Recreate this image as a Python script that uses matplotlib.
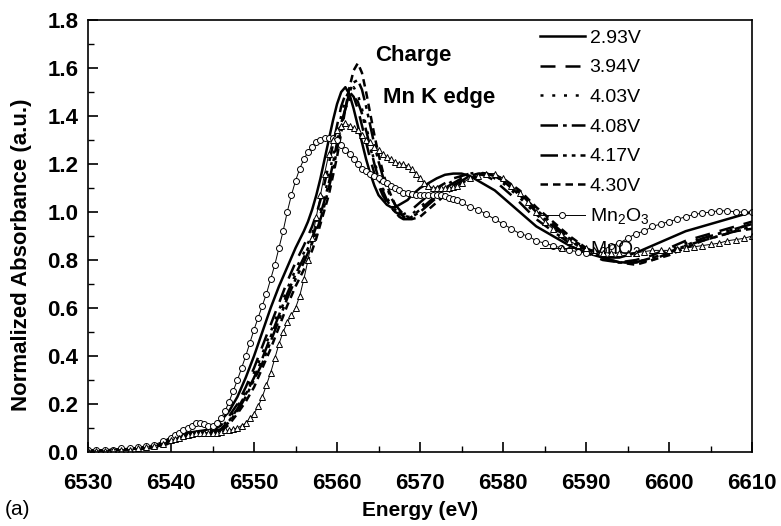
import matplotlib
matplotlib.use("Agg")
import matplotlib.pyplot as plt

plt.rcParams['font.family'] = ['Liberation Sans', 'DejaVu Sans']
plt.rcParams['mathtext.fontset'] = 'custom'
plt.rcParams['mathtext.rm'] = 'Liberation Sans'

# energy grid of the charge curves
e_v = [6530, 6534, 6538, 6539, 6540, 6541, 6542, 6543, 6544, 6545, 6546, 6547,
       6548, 6549, 6550, 6551, 6552, 6553, 6554, 6555, 6556, 6556.5, 6557, 6557.5,
       6558, 6558.5, 6559, 6559.5, 6560, 6560.5, 6561, 6561.5, 6562, 6562.5, 6563,
       6563.5, 6564, 6564.5, 6565, 6565.5, 6566, 6566.5, 6567, 6567.5, 6568, 6568.5,
       6569, 6570, 6571, 6572, 6573, 6574, 6575, 6576, 6577, 6578, 6579, 6580,
       6582, 6584, 6586, 6588, 6590, 6592, 6594, 6596, 6598, 6600, 6602, 6604,
       6606, 6608, 6610]

v293 = [0.005, 0.01, 0.02, 0.04, 0.06, 0.07, 0.08, 0.085, 0.09, 0.10, 0.13, 0.17,
        0.23, 0.31, 0.40, 0.50, 0.60, 0.69, 0.77, 0.85, 0.92, 0.96, 1.01, 1.07,
        1.14, 1.22, 1.30, 1.38, 1.45, 1.50, 1.52, 1.49, 1.43, 1.36, 1.29,
        1.22, 1.16, 1.11, 1.07, 1.05, 1.03, 1.02, 1.02, 1.03, 1.04, 1.05,
        1.07, 1.10, 1.12, 1.14, 1.155, 1.16, 1.16, 1.15, 1.13, 1.11, 1.09, 1.06,
        1.00, 0.94, 0.90, 0.86, 0.83, 0.81, 0.81, 0.83, 0.86, 0.89, 0.92, 0.94,
        0.96, 0.98, 1.00]

v394 = [0.005, 0.01, 0.02, 0.035, 0.055, 0.065, 0.075, 0.08, 0.085, 0.09, 0.11, 0.15,
        0.20, 0.27, 0.35, 0.44, 0.53, 0.62, 0.71, 0.79, 0.86, 0.90, 0.94, 0.99,
        1.05, 1.12, 1.20, 1.28, 1.36, 1.44, 1.49, 1.50, 1.48, 1.43, 1.36,
        1.29, 1.22, 1.16, 1.11, 1.07, 1.04, 1.02, 1.00, 0.99, 0.99, 1.00,
        1.01, 1.04, 1.07, 1.10, 1.12, 1.14, 1.15, 1.16, 1.16, 1.15, 1.13, 1.10,
        1.04, 0.97, 0.92, 0.87, 0.83, 0.80, 0.79, 0.80, 0.82, 0.85, 0.88, 0.90,
        0.92, 0.94, 0.96]

v403 = [0.005, 0.01, 0.02, 0.035, 0.05, 0.06, 0.07, 0.075, 0.08, 0.085, 0.10, 0.14,
        0.19, 0.25, 0.33, 0.41, 0.50, 0.59, 0.68, 0.76, 0.83, 0.87, 0.91, 0.96,
        1.01, 1.07, 1.15, 1.23, 1.32, 1.40, 1.47, 1.51, 1.52, 1.49, 1.43,
        1.36, 1.28, 1.21, 1.15, 1.10, 1.06, 1.03, 1.01, 0.99, 0.98, 0.98,
        0.99, 1.02, 1.05, 1.08, 1.11, 1.13, 1.15, 1.16, 1.165, 1.16, 1.14, 1.12,
        1.06, 0.99, 0.93, 0.88, 0.84, 0.81, 0.79, 0.79, 0.81, 0.84, 0.87, 0.89,
        0.91, 0.93, 0.95]

v408 = [0.005, 0.01, 0.02, 0.03, 0.05, 0.06, 0.07, 0.075, 0.08, 0.085, 0.095, 0.13,
        0.18, 0.24, 0.31, 0.39, 0.48, 0.57, 0.66, 0.74, 0.81, 0.85, 0.89, 0.94,
        0.99, 1.05, 1.12, 1.20, 1.29, 1.37, 1.43, 1.47, 1.48, 1.46, 1.41,
        1.34, 1.27, 1.20, 1.14, 1.09, 1.05, 1.02, 1.00, 0.98, 0.97, 0.97,
        0.98, 1.01, 1.04, 1.07, 1.10, 1.12, 1.14, 1.15, 1.16, 1.16, 1.15, 1.13,
        1.07, 1.00, 0.94, 0.89, 0.84, 0.81, 0.79, 0.79, 0.81, 0.83, 0.86, 0.88,
        0.90, 0.92, 0.94]

v417 = [0.005, 0.01, 0.02, 0.03, 0.045, 0.055, 0.065, 0.07, 0.075, 0.08, 0.09, 0.125,
        0.17, 0.23, 0.30, 0.37, 0.46, 0.55, 0.64, 0.72, 0.79, 0.83, 0.87, 0.92,
        0.97, 1.03, 1.10, 1.17, 1.26, 1.35, 1.43, 1.50, 1.54, 1.55, 1.51,
        1.44, 1.36, 1.28, 1.21, 1.15, 1.10, 1.06, 1.03, 1.01, 0.99, 0.98,
        0.98, 1.00, 1.03, 1.06, 1.09, 1.11, 1.13, 1.15, 1.16, 1.16, 1.15, 1.13,
        1.08, 1.01, 0.95, 0.89, 0.85, 0.81, 0.79, 0.79, 0.80, 0.83, 0.86, 0.89,
        0.91, 0.93, 0.95]

v430 = [0.005, 0.01, 0.015, 0.025, 0.04, 0.05, 0.06, 0.065, 0.07, 0.075, 0.085, 0.115,
        0.16, 0.21, 0.27, 0.35, 0.43, 0.52, 0.61, 0.69, 0.76, 0.80, 0.84, 0.89,
        0.95, 1.01, 1.07, 1.15, 1.23, 1.33, 1.43, 1.52, 1.59, 1.62, 1.58,
        1.50, 1.41, 1.32, 1.24, 1.17, 1.11, 1.07, 1.03, 1.00, 0.98, 0.97,
        0.97, 0.98, 1.01, 1.04, 1.07, 1.10, 1.12, 1.14, 1.15, 1.16, 1.15, 1.14,
        1.09, 1.02, 0.96, 0.90, 0.85, 0.81, 0.79, 0.78, 0.80, 0.82, 0.85, 0.88,
        0.90, 0.92, 0.93]

# energy grid of the reference oxides
e_ref = [6530, 6531, 6532, 6533, 6534, 6535, 6536, 6537, 6538, 6539, 6540,
         6540.5, 6541, 6541.5, 6542, 6542.5, 6543, 6543.5, 6544, 6544.5, 6545,
         6545.5, 6546, 6546.5, 6547, 6547.5, 6548, 6548.5, 6549, 6549.5, 6550,
         6550.5, 6551, 6551.5, 6552, 6552.5, 6553, 6553.5, 6554, 6554.5, 6555,
         6555.5, 6556, 6556.5, 6557, 6557.5, 6558, 6558.5, 6559, 6559.5, 6560,
         6560.5, 6561, 6561.5, 6562, 6562.5, 6563, 6563.5, 6564, 6564.5, 6565,
         6565.5, 6566, 6566.5, 6567, 6567.5, 6568, 6568.5, 6569, 6569.5, 6570,
         6570.5, 6571, 6571.5, 6572, 6572.5, 6573, 6573.5, 6574, 6574.5, 6575,
         6576, 6577, 6578, 6579, 6580, 6581, 6582, 6583, 6584, 6585, 6586, 6587,
         6588, 6589, 6590, 6591, 6592, 6593, 6594, 6595, 6596, 6597, 6598, 6599,
         6600, 6601, 6602, 6603, 6604, 6605, 6606, 6607, 6608, 6609, 6610]

mn2o3 = [0.01, 0.01, 0.01, 0.01, 0.015, 0.015, 0.02, 0.025, 0.03, 0.045, 0.06,
         0.07, 0.08, 0.09, 0.10, 0.11, 0.12, 0.12, 0.115, 0.11, 0.11,
         0.12, 0.14, 0.17, 0.21, 0.255, 0.30, 0.35, 0.40, 0.455, 0.51,
         0.56, 0.61, 0.66, 0.72, 0.78, 0.85, 0.92, 1.00, 1.07, 1.13,
         1.18, 1.22, 1.25, 1.27, 1.29, 1.30, 1.31, 1.31, 1.31, 1.30,
         1.28, 1.26, 1.24, 1.22, 1.20, 1.18, 1.17, 1.16, 1.15, 1.14,
         1.13, 1.12, 1.11, 1.10, 1.09, 1.08, 1.08, 1.075, 1.07, 1.07,
         1.07, 1.07, 1.07, 1.07, 1.07, 1.065, 1.06, 1.055, 1.05, 1.04,
         1.02, 1.01, 0.99, 0.97, 0.95, 0.93, 0.91, 0.90, 0.88, 0.87, 0.86, 0.85,
         0.84, 0.835, 0.83, 0.835, 0.84, 0.86, 0.87, 0.89, 0.91, 0.92, 0.94, 0.95,
         0.96, 0.97, 0.98, 0.99, 0.995, 1.00, 1.005, 1.005, 1.00, 1.00, 1.00]

mno2 = [0.005, 0.005, 0.005, 0.01, 0.01, 0.01, 0.015, 0.02, 0.025, 0.035, 0.05,
        0.055, 0.06, 0.065, 0.07, 0.075, 0.08, 0.08, 0.08, 0.08, 0.08,
        0.08, 0.085, 0.09, 0.09, 0.095, 0.10, 0.11, 0.12, 0.14, 0.16,
        0.19, 0.23, 0.28, 0.33, 0.39, 0.45, 0.50, 0.54, 0.57, 0.60,
        0.65, 0.72, 0.80, 0.89, 0.98, 1.07, 1.16, 1.24, 1.30, 1.34,
        1.36, 1.37, 1.36, 1.35, 1.34, 1.32, 1.30, 1.29, 1.27, 1.26,
        1.24, 1.23, 1.22, 1.21, 1.20, 1.20, 1.19, 1.18, 1.16, 1.14,
        1.12, 1.11, 1.10, 1.10, 1.10, 1.10, 1.10, 1.105, 1.11, 1.12,
        1.14, 1.15, 1.16, 1.16, 1.14, 1.11, 1.08, 1.04, 1.00, 0.96, 0.93, 0.91,
        0.88, 0.86, 0.85, 0.84, 0.83, 0.83, 0.83, 0.83, 0.83, 0.835, 0.84, 0.84,
        0.84, 0.845, 0.85, 0.855, 0.86, 0.865, 0.87, 0.88, 0.885, 0.89, 0.90]

labels = ['2.93V', '3.94V', '4.03V', '4.08V', '4.17V', '4.30V']
series = [v293, v394, v403, v408, v417, v430]
styles = ['-', (0, (6, 4)), (0, (1.2, 3.5)), (0, (7, 2, 1.5, 2)),
          (0, (7, 2, 1.5, 2, 1.5, 2)), (0, (3, 2))]

fig = plt.figure(figsize=(7.81, 5.26), dpi=100)
ax = fig.add_axes([0.1127, 0.1407, 0.8503, 0.8213])

for y, lab, ls in zip(series, labels, styles):
    ax.plot(e_v, y, color='black', linestyle=ls, linewidth=1.8, label=lab)

ax.plot(e_ref, mn2o3, color='black', linewidth=0.7, marker='o', markersize=4.3,
        markerfacecolor='white', markeredgewidth=0.7, label='Mn$_2$O$_3$')
ax.plot(e_ref, mno2, color='black', linewidth=0.7, marker='^', markersize=4.5,
        markerfacecolor='white', markeredgewidth=0.7, label='MnO$_2$')

ax.set_xlim(6530, 6610)
ax.set_ylim(0, 1.8)
ax.set_xticks(range(6530, 6611, 10))
ax.set_xticks(range(6535, 6610, 10), minor=True)
ax.set_yticks([0, 0.2, 0.4, 0.6, 0.8, 1.0, 1.2, 1.4, 1.6, 1.8])
ax.set_yticks([0.1, 0.3, 0.5, 0.7, 0.9, 1.1, 1.3, 1.5, 1.7], minor=True)
ax.set_yticklabels(['0.0', '0.2', '0.4', '0.6', '0.8', '1.0', '1.2', '1.4', '1.6', '1.8'])
ax.tick_params(which='major', direction='in', length=7, width=1.2, labelsize=16)
ax.tick_params(axis='x', which='major', pad=15)
ax.tick_params(axis='y', which='major', pad=7)
ax.tick_params(which='minor', direction='in', length=4, width=1.0)
for lab in ax.get_xticklabels() + ax.get_yticklabels():
    lab.set_fontweight('bold')
for s in ax.spines.values():
    s.set_linewidth(1.2)

ax.set_xlabel('Energy (eV)', fontsize=15, fontweight='bold', labelpad=5)
ax.set_ylabel('Normalized Absorbance (a.u.)', fontsize=16, fontweight='bold')
ax.yaxis.set_label_coords(-0.084, 0.456)

ax.text(6564.6, 1.63, 'Charge', fontsize=16, fontweight='bold')
ax.text(6565.5, 1.455, 'Mn K edge', fontsize=16, fontweight='bold')
fig.text(0.006, 0.02, '(a)', fontsize=15)

ax.legend(loc='upper left', bbox_to_anchor=(0.669, 0.997), frameon=False, fontsize=14,
          handlelength=2.3, handletextpad=0.25, labelspacing=0.62, numpoints=1,
          borderaxespad=0)

fig.savefig('out.png', dpi=100)
